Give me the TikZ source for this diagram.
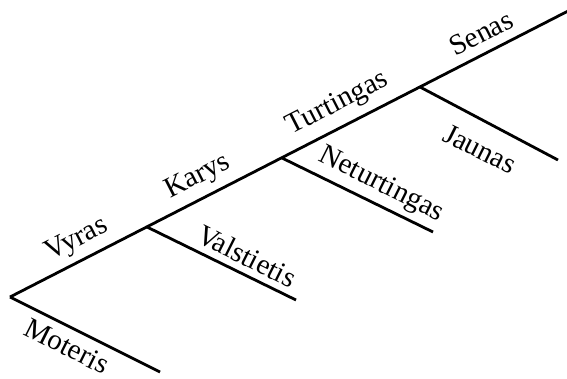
\documentclass[tikz,border=0pt]{standalone}
\usepackage{fontspec}
\setmainfont{Liberation Serif}
\begin{document}
\begin{tikzpicture}[x=1pt,y=-1pt,
  branch/.style={line width=2.8pt},
  lbl/.style={font=\fontsize{29}{29}\selectfont, inner sep=0pt},
  up/.style={lbl, rotate=27.1},
  down/.style={lbl, rotate=-26.6}]
\useasboundingbox (0,0) rectangle (567,378);
\coordinate (root) at (10,297);
\coordinate (top) at (572,9);
\coordinate (b1) at (147,227);
\coordinate (b2) at (282,158);
\coordinate (b3) at (420,87);
\coordinate (e0) at (160,372);
\coordinate (e1) at (296,300);
\coordinate (e2) at (433,232);
\coordinate (e3) at (558,160);
\draw[branch] (root) -- (top);
\draw[branch] (root) -- (e0);
\draw[branch] (b1) -- (e1);
\draw[branch] (b2) -- (e2);
\draw[branch] (b3) -- (e3);
\node[up] (vyras) at (77,240) {Vyras};
\node[up] (karys) at (198,177) {Karys};
\node[up] (turt) at (338,104) {Turtingas};
\node[up] (senas) at (481,33) {Senas};
\node[down] (mot) at (67,346) {Moteris};
\node[down] (val) at (247,256) {Valstietis};
\node[down] (net) at (381,185) {Neturtingas};
\node[down] (jau) at (480,149) {Jaunas};
\end{tikzpicture}
\end{document}
